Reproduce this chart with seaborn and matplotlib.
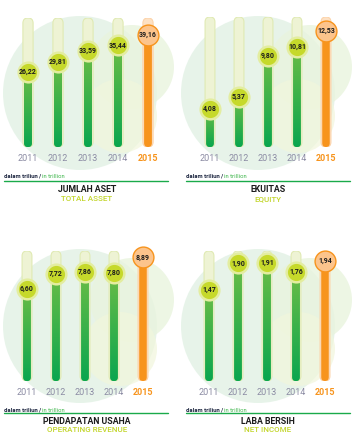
import numpy as np
import pandas as pd
import seaborn as sns
import matplotlib.pyplot as plt
from matplotlib.patches import Circle, FancyBboxPatch

sns.set_theme(style="white")
plt.rcParams['font.family'] = ['Roboto', 'DejaVu Sans']

# data
years = ["2011", "2012", "2013", "2014", "2015"]
jumlah_aset = [26.22, 29.81, 33.59, 35.44, 39.16]
ekuitas = [4.08, 5.37, 9.80, 10.81, 12.53]
pendapatan = [6.60, 7.72, 7.86, 7.80, 8.89]
laba_bersih = [1.47, 1.90, 1.91, 1.76, 1.94]

titles = ["JUMLAH ASET", "EKUITAS", "PENDAPATAN USAHA", "LABA BERSIH"]
subtitles = ["TOTAL ASSET", "EQUITY", "OPERATING REVENUE", "NET INCOME"]
series = [jumlah_aset, ekuitas, pendapatan, laba_bersih]
track_max = [45, 14, 9.35, 2.1]

W, H = 358, 436
GREEN_TOP = np.array([0.42, 0.74, 0.27])
GREEN_BOT = np.array([0.04, 0.65, 0.31])
ORANGE = "#f7941d"

fig = plt.figure(figsize=(W / 100, H / 100), dpi=100)
fig.patch.set_facecolor("white")

# background layer in pixel coords
bg = fig.add_axes([0, 0, 1, 1], zorder=0)
bg.set_xlim(0, W)
bg.set_ylim(H, 0)
bg.axis("off")

# panel geometry in pixels: axes left, width, track top, bottom, panel x offset, panel y offset
panels = [
    (13, 150, 18, 147, 0, 0),
    (195.5, 145, 17, 147, 178, 0),
    (12.5, 145, 251, 381, 0, 233),
    (194.5, 145, 251, 381, 178, 233),
]
# footer rows: note y, line y, title y, subtitle y
footer_rows = {0: (176, 181, 189, 199), 233: (410, 413, 421, 430)}


def rounded(ax, p, asp, **kw):
    x0, y0 = p.get_x(), p.get_y()
    w, h = p.get_width(), p.get_height()
    fb = FancyBboxPatch((x0, y0), w, h,
                        boxstyle=f"round,pad=0,rounding_size={w / 2}",
                        mutation_aspect=asp, zorder=p.get_zorder(), **kw)
    ax.add_patch(fb)
    p.set_visible(False)
    return fb


for k, (left, width, top, bottom, ox, oy) in enumerate(panels):
    # decorative circles
    bg.add_patch(Circle((ox + 80, oy + 93), 77, color="#e3f2e6", alpha=0.85, lw=0))
    bg.add_patch(Circle((ox + 132, oy + 67), 42, color="#e9f4de", alpha=0.8, lw=0))
    bg.add_patch(Circle((ox + 120, oy + 116), 37, color="#f1f6dc", alpha=0.7, lw=0))

    # footer
    ny, ly, ty, sy = footer_rows[oy]
    lx0 = ox + (4 if ox == 0 else 8)
    bg.text(lx0, ny, "dalam triliun", fontsize=4.2, fontweight="bold",
            color="#1d2640", va="center", ha="left")
    bg.text(lx0 + 34.5, ny, "/", fontsize=4.2, fontweight="bold",
            color="#1d2640", va="center", ha="left")
    bg.text(lx0 + 37.5, ny, "in trillion", fontsize=4.2, color="#3cb54a",
            va="center", ha="left")
    bg.plot([lx0, lx0 + 164], [ly, ly], color="#1aaa4a", lw=1.0)
    cx = ox + 87 + (3 if ox else 0)
    bg.text(cx, ty, titles[k], fontsize=6.3, fontweight="bold",
            color="#1b1b1b", ha="center", va="center")
    bg.text(cx, sy, subtitles[k], fontsize=5.8, fontweight="medium", color="#c2d52a",
            ha="center", va="center")

    # chart axes
    ax = fig.add_axes([left / W, (H - bottom) / H, width / W, (bottom - top) / H], zorder=2)
    df = pd.DataFrame({"year": years, "value": series[k],
                       "track": [track_max[k]] * len(years)})
    track_cols = ["#eef3d4"] * 4 + ["#fde1c4"]
    sns.barplot(data=df, x="year", y="track", hue="year", palette=track_cols,
                saturation=1, width=0.34, ax=ax, legend=False)
    n_track = len(ax.patches)
    sns.barplot(data=df, x="year", y="value", hue="year",
                palette=["#3cb54a"] * 4 + [ORANGE], saturation=1, width=0.26,
                ax=ax, legend=False)
    ax.set_xlim(-0.5, 4.5)
    ax.set_ylim(0, track_max[k])
    asp = (track_max[k] / (bottom - top)) / (5 / width)

    patches = list(ax.patches)
    for i, p in enumerate(patches[:n_track]):
        rounded(ax, p, asp, facecolor=p.get_facecolor(),
                edgecolor="#e0eab3" if i < 4 else "#fcd3aa", linewidth=0.8)

    # gradient on green bars
    grad = np.linspace(0, 1, 64)[:, None]
    img = GREEN_BOT[None, None, :] * (1 - grad[..., None]) + GREEN_TOP[None, None, :] * grad[..., None]
    img = np.repeat(img, 2, axis=1)
    for i, p in enumerate(patches[n_track:]):
        fb = rounded(ax, p, asp, facecolor=p.get_facecolor(), linewidth=0)
        if i < 4:
            x0, y0 = p.get_x(), p.get_y()
            w, h = p.get_width(), p.get_height()
            im = ax.imshow(img, extent=[x0, x0 + w, y0, y0 + h], origin="lower",
                           aspect="auto", zorder=fb.get_zorder() + 0.1)
            im.set_clip_path(fb)
    ax.set_xlim(-0.5, 4.5)
    ax.set_ylim(0, track_max[k])

    # circles with values
    for i, v in enumerate(series[k]):
        if i < 4:
            ax.scatter(i, v, s=200, color="#c6d92b", edgecolor="#e3eda0",
                       linewidth=1.8, zorder=5, clip_on=False)
        else:
            ax.scatter(i, v, s=225, color="#fcc48c", edgecolor=ORANGE,
                       linewidth=1.0, zorder=5, clip_on=False)
        ax.text(i, v, f"{v:.2f}".replace(".", ","), fontsize=5, fontweight="bold",
                color="#1c1c1c", ha="center", va="center", zorder=6)

    ax.set_xlabel("")
    ax.set_ylabel("")
    ax.set_yticks([])
    ax.set_xticks(range(len(years)))
    ax.set_xticklabels(years, fontsize=6.5)
    ax.tick_params(axis="x", length=0, pad=5)
    for i, lab in enumerate(ax.get_xticklabels()):
        if i == 4:
            lab.set_color(ORANGE)
            lab.set_fontweight("bold")
        else:
            lab.set_color("#8b8ba3")
    for s in ax.spines.values():
        s.set_visible(False)
    ax.patch.set_alpha(0)

fig.savefig("out.png", dpi=100)
